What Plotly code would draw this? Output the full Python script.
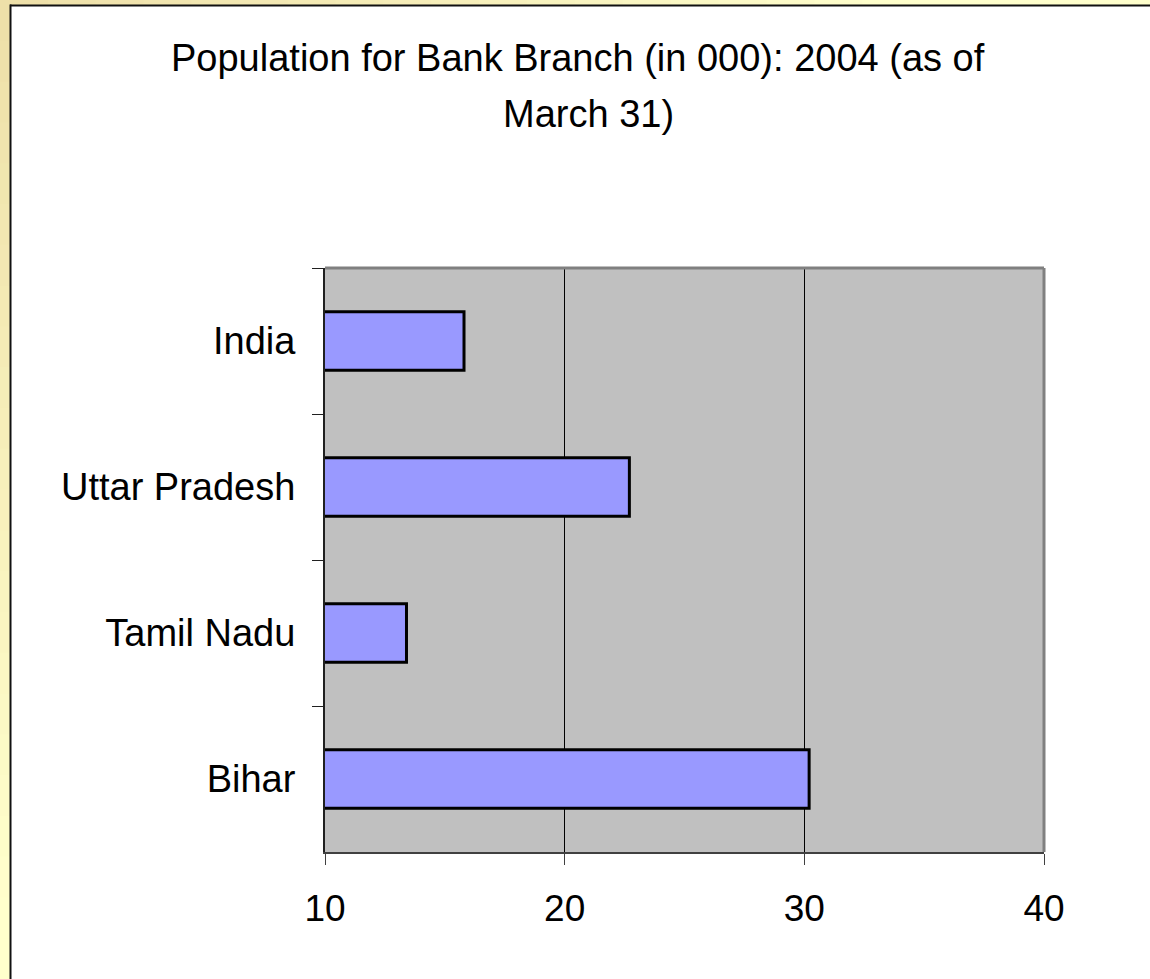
import plotly.graph_objects as go

# ---- data ----
categories = ["India", "Uttar Pradesh", "Tamil Nadu", "Bihar"]
values = [15.8, 22.7, 13.4, 30.2]
x_ticks = [10, 20, 30, 40]
title_line1 = "Population for Bank Branch (in 000): 2004 (as of"
title_line2 = "March 31)"

W, H = 1150, 979
L, R, T, B = 325, 106, 268, 127
PW, PH = W - L - R, H - T - B


def px_x(p):
    return (p - L) / PW


def px_y(p):
    return (H - B - p) / PH


FONT = "Liberation Sans, Arial, sans-serif"

fig = go.Figure(
    go.Bar(
        y=categories,
        x=values,
        orientation="h",
        marker=dict(color="#9999FF", line=dict(color="black", width=3)),
        width=0.4,
        hovertemplate="%{y}: %{x}<extra></extra>",
    )
)

# frame background gradient (beige) on left and top edges
c0 = (238, 223, 168)
c1 = (255, 255, 204)


def col(t):
    t = max(0.0, min(1.0, t))
    return "rgb(%d,%d,%d)" % tuple(round(a + (b - a) * t) for a, b in zip(c0, c1))


shapes = []
n = 24
for i in range(n):
    y0 = i * H / n
    y1 = (i + 1) * H / n
    shapes.append(dict(type="rect", xref="paper", yref="paper",
                       x0=px_x(-2), x1=px_x(10), y0=px_y(y0), y1=px_y(y1 + 1),
                       fillcolor=col(((y0 + y1) / 2) / 900), line=dict(width=0), layer="above"))
for i in range(n):
    x0 = i * W / n
    x1 = (i + 1) * W / n
    shapes.append(dict(type="rect", xref="paper", yref="paper",
                       x0=px_x(x0), x1=px_x(x1 + 1), y0=px_y(5), y1=px_y(-2),
                       fillcolor=col(((x0 + x1) / 2) / 900), line=dict(width=0), layer="above"))
# black frame lines
shapes.append(dict(type="line", xref="paper", yref="paper",
                   x0=px_x(10.5), x1=px_x(10.5), y0=px_y(4.5), y1=px_y(H + 5),
                   line=dict(color="#111111", width=2), layer="above"))
shapes.append(dict(type="line", xref="paper", yref="paper",
                   x0=px_x(10), x1=px_x(W + 5), y0=px_y(5.5), y1=px_y(5.5),
                   line=dict(color="#111111", width=2), layer="above"))
# plot area border
shapes.append(dict(type="line", xref="paper", yref="paper", x0=0, x1=1, y0=1, y1=1,
                   line=dict(color="#808080", width=3), layer="above"))
shapes.append(dict(type="line", xref="paper", yref="paper", x0=1, x1=1, y0=0, y1=1,
                   line=dict(color="#808080", width=3), layer="above"))

annotations = [
    dict(text=title_line1, xref="paper", yref="paper", x=px_x(578), y=px_y(58),
         xanchor="center", yanchor="middle", showarrow=False,
         font=dict(family=FONT, size=38, color="black")),
    dict(text=title_line2, xref="paper", yref="paper", x=px_x(588), y=px_y(114),
         xanchor="center", yanchor="middle", showarrow=False,
         font=dict(family=FONT, size=38, color="black")),
]

fig.update_layout(
    width=W, height=H,
    margin=dict(l=L, r=R, t=T, b=B, pad=0),
    paper_bgcolor="white",
    plot_bgcolor="#C0C0C0",
    showlegend=False,
    bargap=0.6,
    shapes=shapes,
    annotations=annotations,
    font=dict(family=FONT, size=36, color="black"),
    xaxis=dict(
        range=[10, 40], tickvals=x_ticks, ticktext=[str(v) for v in x_ticks],
        showgrid=True, gridcolor="black", gridwidth=1,
        showline=True, linecolor="#404040", linewidth=2,
        ticks="outside", ticklen=11, tickcolor="#404040", tickwidth=1,
        ticklabelstandoff=12,
        zeroline=False, fixedrange=True,
        tickfont=dict(family=FONT, size=37, color="black"),
    ),
    yaxis=dict(
        categoryorder="array", categoryarray=categories, autorange="reversed",
        showgrid=False, showline=True, linecolor="#202020", linewidth=2,
        ticks="outside", ticklen=11, tickcolor="#202020", tickwidth=1,
        tickson="boundaries", ticklabelstandoff=20, zeroline=False, fixedrange=True,
        tickfont=dict(family=FONT, size=38, color="black"),
    ),
)

fig.write_html("out.html", config={"displayModeBar": False},
               post_script="document.body.style.margin='0';")
